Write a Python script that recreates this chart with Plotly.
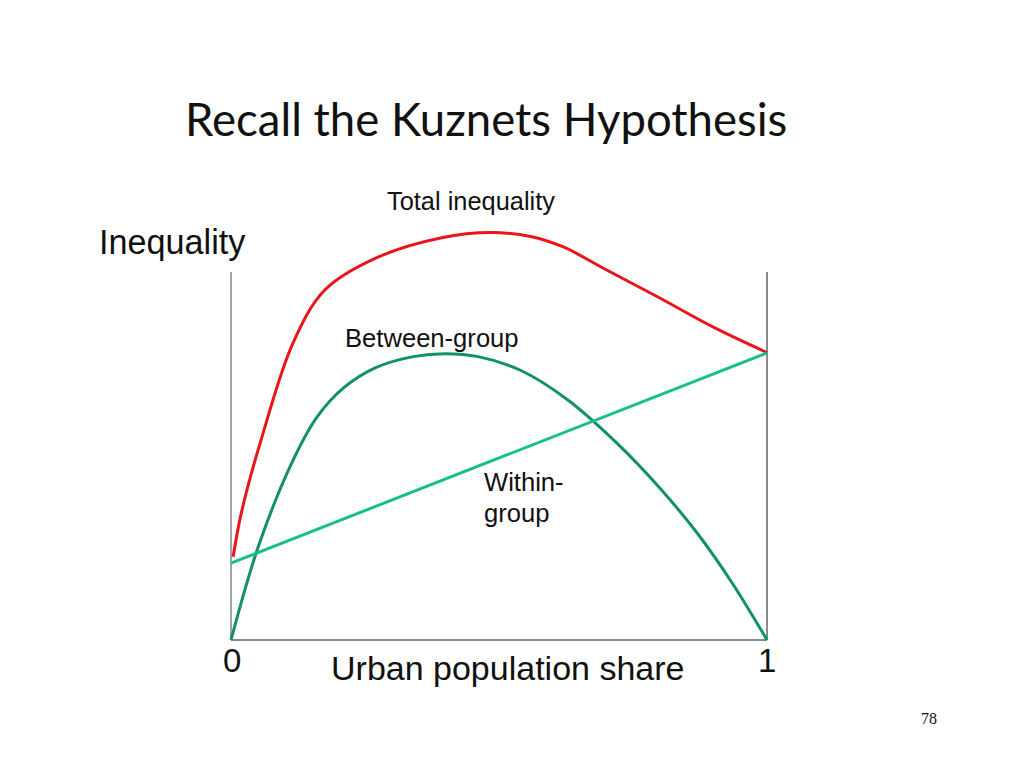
import plotly.graph_objects as go

# curvas (x = cuota urbana, y = desigualdad)
total_x = [0.004, 0.020, 0.057, 0.116, 0.175, 0.269, 0.393, 0.485, 0.561, 0.620,
           0.700, 0.794, 0.900, 1.0]
total_y = [0.226, 0.350, 0.548, 0.808, 0.951, 1.037, 1.093, 1.107, 1.096, 1.068,
           1.006, 0.934, 0.850, 0.781]

between_x = [0.0, 0.051, 0.113, 0.160, 0.210, 0.270, 0.340, 0.400, 0.461, 0.540, 0.626,
             0.720, 0.800, 0.870, 0.935, 1.0]
between_y = [0.0, 0.254, 0.480, 0.605, 0.685, 0.740, 0.770, 0.778, 0.770, 0.733, 0.655,
             0.535, 0.413, 0.290, 0.155, 0.0]

within_x = [0.0, 1.0]
within_y = [0.209, 0.780]

W, H = 1024, 768


def px(x, y):
    """Convierte píxeles de la diapositiva a coordenadas paper."""
    return x / W, 1 - y / H


fig = go.Figure()
fig.add_trace(go.Scatter(x=total_x, y=total_y, mode='lines',
                         line=dict(color='#e8161a', width=3, shape='spline', smoothing=1)))
fig.add_trace(go.Scatter(x=between_x, y=between_y, mode='lines',
                         line=dict(color='#12906c', width=3, shape='spline', smoothing=1)))
fig.add_trace(go.Scatter(x=within_x, y=within_y, mode='lines', line=dict(color='#16c08c', width=3)))

# ejes dibujados como líneas
ejes = [(0, 0, 0, 1, 1.2, '#666666'), (1, 0, 1, 1, 2, '#8a8a8a'), (0, 0, 1, 0, 2, '#8a8a8a')]
for x0, y0, x1, y1, w, c in ejes:
    fig.add_shape(type='line', x0=x0, y0=y0, x1=x1, y1=y1, xref='x', yref='y',
                  line=dict(color=c, width=w), layer='below')

sans = 'Liberation Sans, Arial, sans-serif'
textos = [
    ('Recall the Kuznets Hypothesis', 486, 119, 'center', 'Lato, Carlito, sans-serif', 45.5),
    ('Total inequality', 471, 201, 'center', sans, 25.4),
    ('Inequality', 97, 242, 'left', sans, 34.2),
    ('Between-group', 343, 338, 'left', sans, 25.6),
    ('Within-', 482, 482, 'left', sans, 25.6),
    ('group', 482, 513, 'left', sans, 25.6),
    ('0', 232, 660, 'center', sans, 33),
    ('1', 767, 660, 'center', sans, 33),
    ('Urban population share', 329, 668, 'left', sans, 34),
    ('78', 929, 718, 'center', 'Liberation Serif, serif', 16),
]
for t, x, y, anc, fam, size in textos:
    xp, yp = px(x, y)
    fig.add_annotation(text=t, x=xp, y=yp, xref='paper', yref='paper', xanchor=anc, yanchor='middle',
                       showarrow=False, font=dict(family=fam, size=size, color='#111111'))

fig.update_layout(
    width=W,
    height=H,
    margin=dict(l=0, r=0, t=0, b=0),
    plot_bgcolor='white',
    paper_bgcolor='white',
    showlegend=False,
    hovermode=False,
    xaxis=dict(range=[-231 / 536, 793 / 536], visible=False, fixedrange=True),
    yaxis=dict(range=[-128 / 368, 640 / 368], visible=False, fixedrange=True),
)

fig.write_html('out.html', config={'displayModeBar': False},
               post_script="document.body.style.margin='0';")
